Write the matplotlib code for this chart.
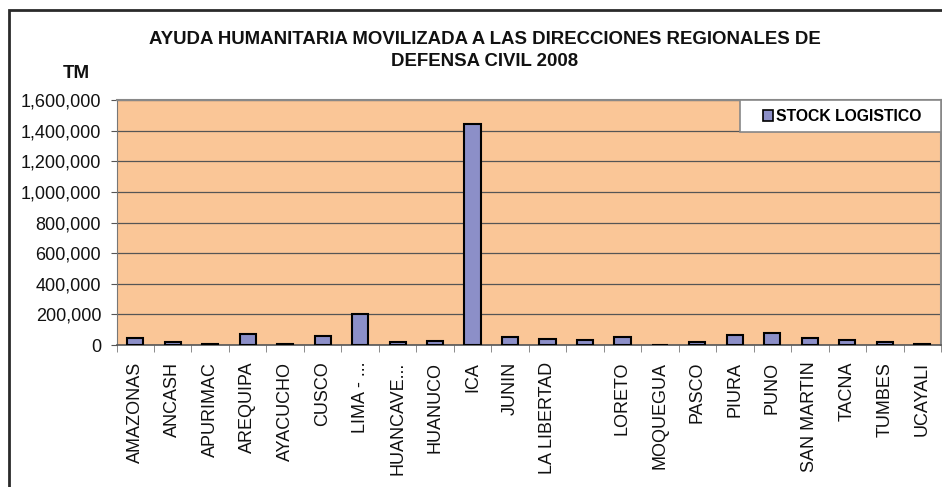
import matplotlib
matplotlib.use("Agg")
import matplotlib.pyplot as plt
from matplotlib.patches import Rectangle, Patch
from matplotlib.ticker import FuncFormatter, FixedLocator

plt.rcParams['font.family'] = ['Liberation Sans', 'DejaVu Sans']

categories = ["AMAZONAS", "ANCASH", "APURIMAC", "AREQUIPA", "AYACUCHO", "CUSCO",
              "LIMA - ...", "HUANCAVE...", "HUANUCO", "ICA", "JUNIN", "LA LIBERTAD",
              "", "LORETO", "MOQUEGUA", "PASCO", "PIURA", "PUNO", "SAN MARTIN",
              "TACNA", "TUMBES", "UCAYALI"]
stock = [45000, 19000, 5000, 74000, 4000, 61000,
         202000, 17000, 26000, 1445000, 54000, 39000,
         30000, 52000, 3000, 19000, 67000, 80000, 43000,
         33000, 19000, 4000]
yticks = [0, 200000, 400000, 600000, 800000, 1000000, 1200000, 1400000, 1600000]

W, H = 942, 487
fig = plt.figure(figsize=(W / 100, H / 100), dpi=100)

def fx(px):
    return px / W

def fy(py):
    return 1 - py / H

# outer chart border (cropped on right and bottom)
fig.patches.append(Rectangle((fx(9), -0.1), 1.2, fy(10) + 0.1, transform=fig.transFigure,
                             fill=False, edgecolor="#2a2a2a", linewidth=2, zorder=0))

ax = fig.add_axes([fx(116.5), fy(345), fx(941 - 116.5), 245 / H])
ax.set_facecolor("#FAC697")

x = list(range(len(categories)))
ax.bar(x, stock, width=0.43, color="#8C8FC8", edgecolor="black", linewidth=1.5,
       zorder=3, label="STOCK LOGISTICO")

ax.set_xlim(-0.5, len(categories) - 0.5)
ax.set_ylim(0, 1600000)
ax.set_yticks(yticks)
ax.yaxis.set_major_formatter(FuncFormatter(lambda v, p: f"{int(v):,}"))
ax.grid(axis="y", color="#555555", linewidth=0.9, zorder=1)
ax.tick_params(axis="y", labelsize=13, length=4, color="#555555", pad=7, labelcolor="#111111")

ax.set_xticks(x)
ax.set_xticklabels(categories, rotation=90, fontsize=13, color="#111111")
ax.xaxis.set_minor_locator(FixedLocator([i - 0.5 for i in range(len(categories) + 1)]))
ax.tick_params(axis="x", which="major", length=0, pad=12)
ax.tick_params(axis="x", which="minor", length=5, color="#777777")

for s in ["top", "right"]:
    ax.spines[s].set_color("#888888")
    ax.spines[s].set_linewidth(1.5)
ax.spines["left"].set_color("#777777")
ax.spines["bottom"].set_color("#555555")
ax.spines["bottom"].set_linewidth(1.2)

# legend: frame box plus unframed legend centred in it
ax.add_patch(Rectangle((fx(740), fy(132)), fx(941 - 740), 32 / H, transform=fig.transFigure,
                       facecolor="white", edgecolor="#888888", linewidth=1.2, zorder=5,
                       clip_on=False))
leg = ax.legend(handles=[Patch(facecolor="#8C8FC8", edgecolor="black", linewidth=1.2,
                               label="STOCK LOGISTICO")],
                loc="center", bbox_to_anchor=(fx(842.5), fy(116.5)),
                bbox_transform=fig.transFigure, frameon=False, borderpad=0,
                handlelength=0.62, handleheight=0.62, handletextpad=0.2,
                prop={"weight": "bold", "size": 11.3})
leg.set_zorder(6)

fig.text(fx(485), fy(39), "AYUDA HUMANITARIA MOVILIZADA A LAS DIRECCIONES REGIONALES DE",
         ha="center", va="center", fontsize=13.4, fontweight="bold", color="#111111")
fig.text(fx(485), fy(62), "DEFENSA CIVIL 2008",
         ha="center", va="center", fontsize=13.4, fontweight="bold", color="#111111")
fig.text(fx(76), fy(73), "TM", ha="center", va="center", fontsize=13.5, fontweight="bold",
         color="#111111")

fig.savefig("out.png", dpi=100)
